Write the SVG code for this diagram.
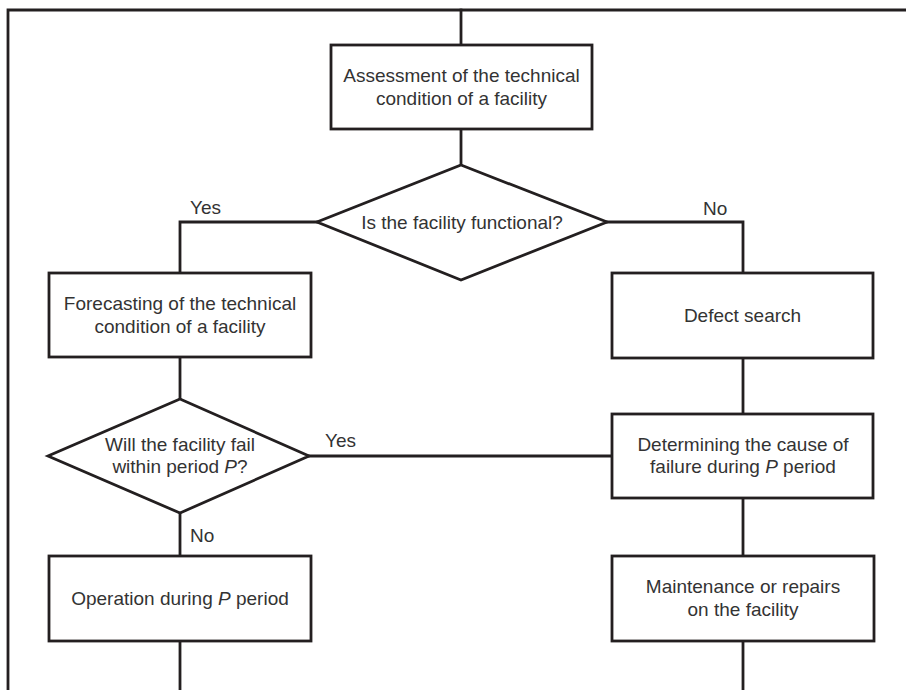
<svg xmlns="http://www.w3.org/2000/svg" width="906" height="690" viewBox="0 0 906 690">
<style>
.ln{fill:none;stroke:#231f20;stroke-width:2.8;stroke-linejoin:miter;stroke-linecap:square}
.bx{fill:#fff;stroke:#231f20;stroke-width:2.8}
text{font-family:"Liberation Sans",Arial,sans-serif;font-size:19px;fill:#333;text-anchor:middle}
.lb{text-anchor:start}
</style>
<rect width="906" height="690" fill="#fff"/>
<g id="connectors">
<path class="ln" d="M906 10 H8 V690"/>
<path class="ln" d="M461 10 V45"/>
<path class="ln" d="M461 129 V165"/>
<path class="ln" d="M317 222 H180 V273"/>
<path class="ln" d="M607 222 H743 V273"/>
<path class="ln" d="M180 357 V399"/>
<path class="ln" d="M309 456 H612"/>
<path class="ln" d="M743 357 V414"/>
<path class="ln" d="M743 498 V556"/>
<path class="ln" d="M180 513 V556"/>
<path class="ln" d="M180 641 V690"/>
<path class="ln" d="M743 641 V690"/>
<text class="lb" x="190" y="214">Yes</text>
<text class="lb" x="703" y="215">No</text>
<text class="lb" x="325" y="447">Yes</text>
<text class="lb" x="190" y="542">No</text>
</g>
<g id="assess">
<rect class="bx" x="331" y="45" width="261" height="84"/>
<text x="461.5" y="82">Assessment of the technical</text>
<text x="461.5" y="105">condition of a facility</text>
</g>
<g id="functional">
<polygon class="bx" points="461,165 607,222 461,280 317,222"/>
<text x="462" y="229">Is the facility functional?</text>
</g>
<g id="forecast">
<rect class="bx" x="49" y="273" width="262" height="84"/>
<text x="180" y="310">Forecasting of the technical</text>
<text x="180" y="333">condition of a facility</text>
</g>
<g id="defect">
<rect class="bx" x="612" y="273" width="261" height="85"/>
<text x="742.5" y="322">Defect search</text>
</g>
<g id="willfail">
<polygon class="bx" points="180,399 309,456 180,513 48,456"/>
<text x="180" y="451">Will the facility fail</text>
<text x="180" y="473">within period <tspan font-style="italic">P</tspan>?</text>
</g>
<g id="cause">
<rect class="bx" x="612" y="414" width="261" height="84"/>
<text x="743" y="451">Determining the cause of</text>
<text x="743" y="473">failure during <tspan font-style="italic">P</tspan> period</text>
</g>
<g id="operation">
<rect class="bx" x="49" y="556" width="262" height="85"/>
<text x="180" y="605">Operation during <tspan font-style="italic">P</tspan> period</text>
</g>
<g id="maintenance">
<rect class="bx" x="612" y="556" width="262" height="85"/>
<text x="743" y="593">Maintenance or repairs</text>
<text x="743" y="616">on the facility</text>
</g>
</svg>
